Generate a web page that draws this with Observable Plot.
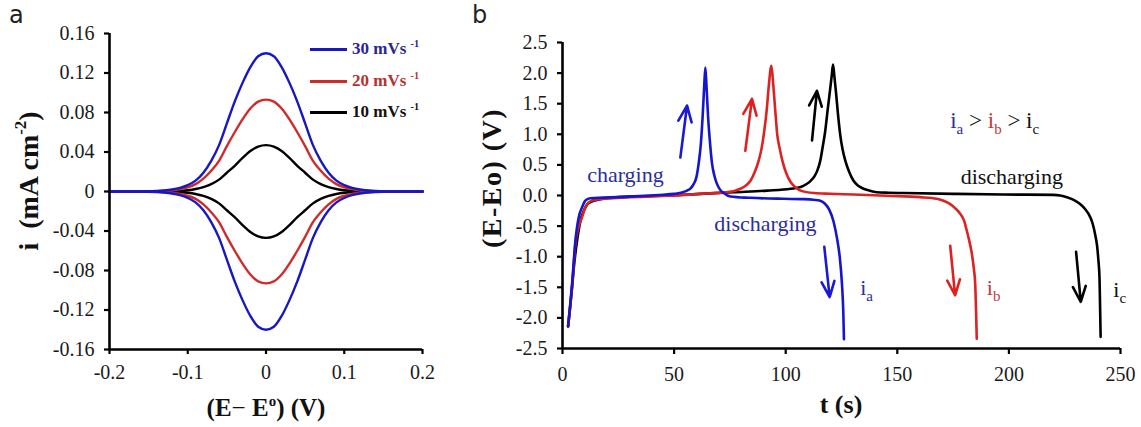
<!DOCTYPE html>
<html><head><meta charset="utf-8">
<script src="https://cdn.jsdelivr.net/npm/d3@7"></script>
<script src="https://cdn.jsdelivr.net/npm/@observablehq/plot@0.6"></script>
<style>
html,body{margin:0;padding:0;background:#fff;}
#wrap{position:relative;width:1141px;height:427px;overflow:hidden;font-family:'Liberation Serif','Times New Roman',serif;color:#1a1a1a;}
#wrap svg{position:absolute;top:0;}
.abs{position:absolute;white-space:nowrap;}
.plabel{font-family:'DejaVu Sans',sans-serif;font-size:24px;line-height:24px;color:#222;}
.alabel{font-weight:bold;font-size:24px;line-height:1.2;color:#111;}
.rot{transform:translate(-50%,-50%) rotate(-90deg);}
.hor{transform:translate(-50%,-50%);}
.leg{font-weight:bold;font-size:17px;line-height:1.2;transform:translateY(-50%);}
sup{font-size:60%;vertical-align:0.7em;line-height:0;}
</style></head><body>
<div id="wrap"></div>
<script>
// ---------- Panel a: cyclic voltammograms ----------
const E = [-0.20,-0.19,-0.18,-0.17,-0.16,-0.15,-0.14,-0.13,-0.12,-0.11,-0.10,-0.09,-0.08,-0.07,-0.06,-0.05,-0.04,-0.03,-0.02,-0.01,0,0.01,0.02,0.03,0.04,0.05,0.06,0.07,0.08,0.09,0.10,0.11,0.12,0.13,0.14,0.15,0.16,0.17,0.18,0.19,0.20];
const i30up = [0,0,0,0,0.0001,0.0002,0.0005,0.001,0.002,0.0037,0.0065,0.011,0.019,0.031,0.047,0.069,0.091,0.110,0.126,0.137,0.140,0.137,0.126,0.110,0.091,0.069,0.047,0.031,0.019,0.011,0.0065,0.0037,0.002,0.001,0.0005,0.0002,0.0001,0,0,0,0];
const i30dn = [0,0,0,0,-0.0001,-0.0002,-0.0005,-0.001,-0.002,-0.0037,-0.0065,-0.011,-0.019,-0.031,-0.047,-0.069,-0.091,-0.110,-0.126,-0.137,-0.140,-0.137,-0.126,-0.110,-0.091,-0.069,-0.047,-0.031,-0.019,-0.011,-0.0065,-0.0037,-0.002,-0.001,-0.0005,-0.0002,-0.0001,0,0,0,0];
const i20up = [0,0,0,0,0,0.0001,0.0003,0.0007,0.0013,0.0025,0.0043,0.0075,0.013,0.021,0.031,0.046,0.060,0.073,0.084,0.091,0.093,0.091,0.084,0.073,0.060,0.046,0.031,0.021,0.013,0.0075,0.0043,0.0025,0.0013,0.0007,0.0003,0.0001,0,0,0,0,0];
const i20dn = [0,0,0,0,0,-0.0001,-0.0003,-0.0007,-0.0013,-0.0025,-0.0043,-0.0075,-0.013,-0.021,-0.031,-0.046,-0.060,-0.073,-0.084,-0.091,-0.093,-0.091,-0.084,-0.073,-0.060,-0.046,-0.031,-0.021,-0.013,-0.0075,-0.0043,-0.0025,-0.0013,-0.0007,-0.0003,-0.0001,0,0,0,0,0];
const i10up = [0,0,0,0,0,0,0,0.0001,0.0003,0.0007,0.0013,0.0025,0.0045,0.0075,0.012,0.019,0.026,0.034,0.041,0.0455,0.047,0.0455,0.041,0.034,0.026,0.019,0.012,0.0075,0.0045,0.0025,0.0013,0.0007,0.0003,0.0001,0,0,0,0,0,0,0];
const i10dn = [0,0,0,0,0,0,0,-0.0001,-0.0003,-0.0007,-0.0013,-0.0025,-0.0045,-0.0075,-0.012,-0.019,-0.026,-0.034,-0.041,-0.0455,-0.047,-0.0455,-0.041,-0.034,-0.026,-0.019,-0.012,-0.0075,-0.0045,-0.0025,-0.0013,-0.0007,-0.0003,-0.0001,0,0,0,0,0,0,0];
const cvRates = ["30 mVs", "20 mVs", "10 mVs"];
const cvColors = ["#1717c4", "#cf2b2b", "#000000"];
const cvTextColors = ["#26269a", "#b63030", "#111111"];
const xTicksA = [-0.2, -0.1, 0, 0.1, 0.2];
const yTicksA = [-0.16, -0.12, -0.08, -0.04, 0, 0.04, 0.08, 0.12, 0.16];

// ---------- Panel b: galvanostatic charge/discharge ----------
const tA = [2.5,4.3,5.8,7.3,8.8,10.3,12.5,18,24.5,32,39.4,45,49.9,53,55.8,57.5,58.8,60,61,62,62.8,63.5,64.0,64.5,65.2,66,67,68,69.2,70.5,72.2,75.2,84.2,99.1,108,112.5,115.5,117.5,119.5,121.4,123,124.2,125.2,125.8,126.1];
const vA = [-2.14,-1.44,-0.73,-0.35,-0.19,-0.08,-0.045,-0.035,-0.027,-0.015,0,0.012,0.027,0.045,0.08,0.12,0.19,0.3,0.52,0.85,1.3,1.8,2.09,1.8,1.3,0.9,0.52,0.33,0.19,0.1,0.04,-0.016,-0.038,-0.054,-0.06,-0.07,-0.085,-0.13,-0.23,-0.42,-0.7,-1.0,-1.44,-1.9,-2.35];
const tB = [2.5,4.3,5.8,7.3,8.5,10.3,13.3,18,24.5,35,46.9,55,61.8,68,73.7,77,79.7,82,84.2,86,87.9,89.2,90.2,91.5,92.5,93.6,94.4,95.3,96.2,97.3,98.5,100.3,102.2,104.5,106.7,112.7,120,130.4,145.3,160.3,167.7,171,173.7,176,178.2,180,181.1,182.3,183.4,184.3,184.9,185.3,185.6];
const vB = [-2.14,-1.48,-0.78,-0.5,-0.38,-0.19,-0.08,-0.055,-0.04,-0.022,-0.005,0.01,0.027,0.04,0.054,0.075,0.11,0.16,0.24,0.37,0.57,0.77,1.0,1.4,1.82,2.12,1.82,1.4,1.0,0.77,0.57,0.36,0.22,0.13,0.08,0.04,0.028,0.016,-0.005,-0.027,-0.054,-0.09,-0.14,-0.21,-0.3,-0.42,-0.57,-0.75,-0.95,-1.2,-1.44,-1.9,-2.34];
const tC = [2.5,4.3,5.1,6.6,8,9.6,11,12.5,17,24,31.9,46.9,61.8,76.7,91.6,102.2,106.7,109,111.2,113,114.2,115.5,116.6,117.7,118.8,119.8,120.6,121.2,121.8,122.6,123.5,124.4,125.5,126.7,128.5,130.4,132.5,134.9,137.5,140.8,146,152.8,175.2,197.6,220,223,226,229,231.9,234.3,236.4,237.6,238.6,239.5,240.1,240.6,240.8,241.1];
const vC = [-2.14,-1.5,-1.17,-0.72,-0.42,-0.245,-0.15,-0.11,-0.06,-0.03,-0.016,0,0.027,0.054,0.08,0.11,0.14,0.18,0.24,0.32,0.41,0.57,0.8,1.05,1.4,1.7,1.95,2.14,1.95,1.66,1.3,1.0,0.75,0.57,0.38,0.24,0.16,0.11,0.08,0.054,0.045,0.04,0.027,0.016,0.01,0.0,-0.027,-0.07,-0.14,-0.23,-0.35,-0.47,-0.63,-0.82,-1.06,-1.35,-1.71,-2.31];
const gcdColors = ["#1515cf", "#dc2222", "#000000"];
const xTicksB = [0, 50, 100, 150, 200, 250];
const yTicksB = [-2.5, -2.0, -1.5, -1.0, -0.5, 0, 0.5, 1.0, 1.5, 2.0, 2.5];

// arrows (start -> end)
const arrT1 = [52.8, 81.9, 111.8, 117.3, 173.7, 230.1];
const arrV1 = [0.62, 0.73, 0.90, -0.84, -0.82, -0.92];
const arrT2 = [55.8, 84.9, 114.0, 119.7, 175.9, 232.2];
const arrV2 = [1.47, 1.58, 1.71, -1.66, -1.63, -1.74];
const arrColors = ["#1a1ad2", "#e01f1f", "#000000", "#1a1ad2", "#e01f1f", "#000000"];

// text annotations
const noteText = ["charging", "discharging", "discharging"];
const noteT = [28.2, 90.9, 201.3];
const noteV = [0.33, -0.46, 0.30];
const noteColors = ["#2d2da0", "#2d2da0", "#111111"];
const subText = ["ia", "ib", "ic"];
const subT = [133.4, 190.1, 246.8];
const subV = [-1.51, -1.51, -1.55];
const subColors = ["#2d2d9a", "#c23a3a", "#111111"];
const ratioText = "ia > ib > ic";
const ratioT = 173.7, ratioV = 1.22;

// ---------- build ----------
const wrap = document.getElementById("wrap");
const font = "'Liberation Serif','Times New Roman',serif";

const cvSeries = [[i10up, i10dn], [i20up, i20dn], [i30up, i30dn]];
const cvOrder = [2, 1, 0];
const cvMarks = [];
cvOrder.forEach((k, j) => {
  const [up, dn] = cvSeries[j];
  const col = cvColors[k];
  cvMarks.push(Plot.line(E.map((e, n) => ({e, i: up[n]})), {x: "e", y: "i", stroke: col, strokeWidth: 2.4, curve: "monotone-x"}));
  cvMarks.push(Plot.line(E.map((e, n) => ({e, i: dn[n]})), {x: "e", y: "i", stroke: col, strokeWidth: 2.4, curve: "monotone-x"}));
});

const plotA = Plot.plot({
  width: 450, height: 427,
  marginLeft: 109, marginRight: 28, marginTop: 33, marginBottom: 78,
  style: {fontFamily: font, fontSize: "20px", background: "transparent", color: "#1a1a1a", overflow: "visible"},
  x: {domain: [-0.2, 0.2]},
  y: {domain: [-0.16, 0.16]},
  marks: [
    Plot.axisX(xTicksA, {tickSize: 5, tickPadding: 10, strokeWidth: 2.2, stroke: "#000", fill: "#1a1a1a", fontSize: 20, fontFamily: font, label: null, tickFormat: d => String(d)}),
    Plot.axisY(yTicksA, {tickSize: 5, tickPadding: 10, strokeWidth: 2.2, stroke: "#000", fill: "#1a1a1a", fontSize: 20, fontFamily: font, label: null, tickFormat: d => d === 0 ? "0" : d.toFixed(2)}),
    ...cvMarks,
    Plot.ruleX([-0.2], {stroke: "#000", strokeWidth: 2.6}),
    Plot.ruleY([-0.16], {stroke: "#000", strokeWidth: 2.6})
  ]
});
plotA.style.left = "0px";
wrap.appendChild(plotA);

const gcd = [[tC, vC, gcdColors[2]], [tB, vB, gcdColors[1]], [tA, vA, gcdColors[0]]];
const plotB = Plot.plot({
  width: 681, height: 427,
  marginLeft: 102, marginRight: 21, marginTop: 42, marginBottom: 79,
  style: {fontFamily: font, fontSize: "20px", background: "transparent", color: "#1a1a1a", overflow: "visible"},
  x: {domain: [0, 250]},
  y: {domain: [-2.5, 2.5]},
  marks: [
    Plot.axisX(xTicksB, {tickSize: 6, tickPadding: 12, strokeWidth: 2.2, stroke: "#000", fill: "#1a1a1a", fontSize: 20, fontFamily: font, label: null, tickFormat: d => String(d)}),
    Plot.axisY(yTicksB, {tickSize: 5, tickPadding: 10, strokeWidth: 2.2, stroke: "#000", fill: "#1a1a1a", fontSize: 20, fontFamily: font, label: null, tickFormat: d => d.toFixed(1)}),
    ...gcd.map(([t, v, c]) => Plot.line(t.map((x, n) => ({t: x, v: v[n]})), {x: "t", y: "v", stroke: c, strokeWidth: 2.6, curve: "monotone-x"})),
    Plot.arrow(arrT1.map((x, n) => ({x1: x, y1: arrV1[n], x2: arrT2[n], y2: arrV2[n], c: arrColors[n]})),
      {x1: "x1", y1: "y1", x2: "x2", y2: "y2", stroke: "c", strokeWidth: 2.6, headLength: 11, headAngle: 45}),
    Plot.text(noteText.map((s, n) => ({s, t: noteT[n], v: noteV[n], c: noteColors[n]})),
      {x: "t", y: "v", text: "s", fill: "c", fontSize: 22, fontFamily: font, textAnchor: "middle"}),
    Plot.text(subText.map((s, n) => ({s, t: subT[n], v: subV[n], c: subColors[n]})),
      {x: "t", y: "v", text: "s", fill: "c", fontSize: 22, fontFamily: font, textAnchor: "start"}),
    Plot.text([{s: ratioText, t: ratioT, v: ratioV}], {x: "t", y: "v", text: "s", fill: "#111", fontSize: 23, fontFamily: font, textAnchor: "start"}),
    Plot.ruleX([0], {stroke: "#000", strokeWidth: 2.6}),
    Plot.ruleY([-2.5], {stroke: "#000", strokeWidth: 2.6})
  ]
});
plotB.style.left = "460px";
wrap.appendChild(plotB);

// rich text (subscripts, coloured pieces) inside panel b
const NS = "http://www.w3.org/2000/svg";
function rich(el, parts) {
  el.textContent = "";
  let shift = 0;
  for (const p of parts) {
    const ts = document.createElementNS(NS, "tspan");
    ts.textContent = p.s;
    if (p.fill) ts.setAttribute("fill", p.fill);
    const target = p.sub ? 6 : 0;
    if (target !== shift) { ts.setAttribute("dy", target - shift); shift = target; }
    if (p.sub) ts.setAttribute("font-size", 15);
    el.appendChild(ts);
  }
}
const richMap = {
  "ia": [{s: "i"}, {s: "a", sub: true}],
  "ib": [{s: "i"}, {s: "b", sub: true}],
  "ic": [{s: "i"}, {s: "c", sub: true}],
  "ia > ib > ic": [
    {s: "i", fill: subColors[0]}, {s: "a", sub: true, fill: subColors[0]},
    {s: " > ", fill: "#111"},
    {s: "i", fill: subColors[1]}, {s: "b", sub: true, fill: subColors[1]},
    {s: " > i", fill: "#111"}, {s: "c", sub: true, fill: "#111"}
  ]
};
plotB.querySelectorAll("text").forEach(el => {
  const parts = richMap[el.textContent];
  if (parts) rich(el, parts);
});

// HTML overlays: panel letters, axis titles, legend
function add(html, cls, style) {
  const d = document.createElement("div");
  d.className = "abs " + cls;
  d.innerHTML = html;
  Object.assign(d.style, style);
  wrap.appendChild(d);
  return d;
}
add("a", "plabel", {left: "9px", top: "3px"});
add("b", "plabel", {left: "472px", top: "3px"});
add("i&nbsp; (mA cm<sup>-2</sup>)", "alabel rot", {left: "29px", top: "181px", fontSize: "28px"});
add("(E<span style='font-weight:normal'>&minus;</span> E<sup>o</sup>) (V)", "alabel hor", {left: "266px", top: "408px", fontSize: "25px"});
add("(E-Eo) (V)", "alabel rot", {left: "492px", top: "178px", fontSize: "28px", letterSpacing: "1.5px"});
add("t (s)", "alabel hor", {left: "841px", top: "405px", fontSize: "26px"});

const legY = [49, 81, 112];
cvRates.forEach((r, n) => {
  const line = document.createElement("div");
  line.className = "abs";
  Object.assign(line.style, {left: "310px", top: (legY[n] - 1.5) + "px", width: "37px", height: "3px", background: cvColors[n]});
  wrap.appendChild(line);
  add(r + " <sup>-1</sup>", "leg", {left: "352px", top: legY[n] + "px", color: cvTextColors[n]});
});
</script>
</body></html>
